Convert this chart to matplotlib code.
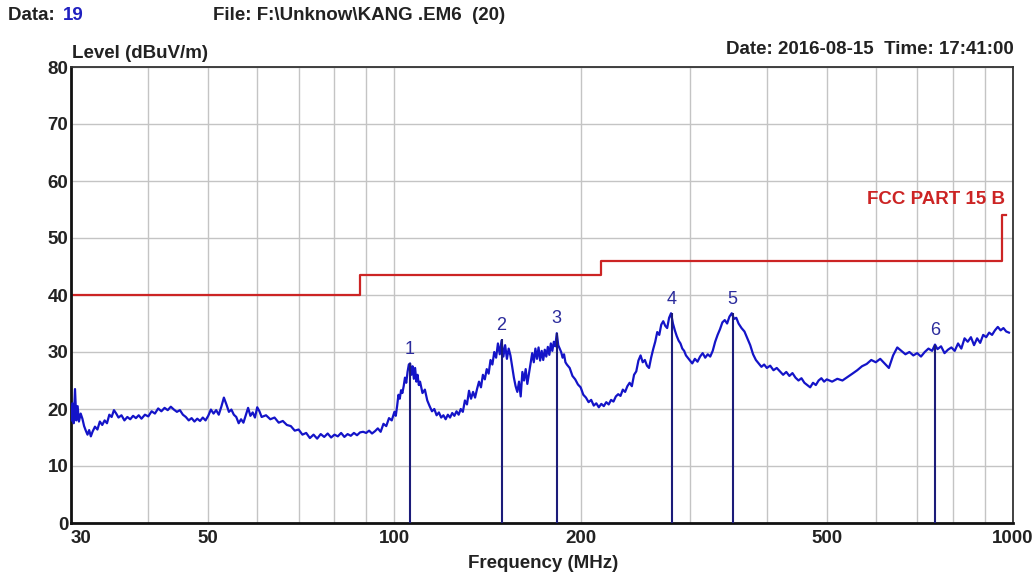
"""
Radiated emission scan 30-1000 MHz vs FCC Part 15 B limit, peak markers 1-6.
"""

import matplotlib
matplotlib.use('Agg')
import matplotlib.pyplot as plt
from matplotlib.ticker import FixedLocator, NullFormatter, NullLocator

plt.rcParams['font.family'] = ['Liberation Sans', 'DejaVu Sans']

# ── Data ───────────────────────────────────────────────────────────────────────
FREQ = [
    30.0, 30.15, 30.3, 30.45, 30.6, 30.75, 30.9, 31.1, 31.3, 31.5, 31.7, 31.9,
    32.1, 32.3, 32.5, 32.8, 33.1, 33.4, 33.7, 34.0, 34.3, 34.6, 34.9, 35.2,
    35.5, 35.8, 36.2, 36.6, 37.0, 37.4, 37.8, 38.2, 38.6, 39.0, 39.5, 40.0,
    40.5, 41.0, 41.5, 42.0, 42.5, 43.0, 43.5, 44.0, 44.5, 45.0, 45.5, 46.0,
    46.5, 47.0, 47.5, 48.0, 48.5, 49.0, 49.5, 50.0, 50.5, 51.0, 51.5, 52.0,
    52.5, 53.0, 53.5, 54.0, 54.5, 55.0, 55.5, 56.0, 56.5, 57.0, 57.5, 58.0,
    58.5, 59.0, 59.5, 60.0, 60.5, 61.0, 62.0, 63.0, 64.0, 65.0, 66.0, 67.0,
    68.0, 69.0, 70.0, 71.0, 72.0, 73.0, 74.0, 75.0, 76.0, 77.0, 78.0, 79.0,
    80.0, 81.0, 82.0, 83.0, 84.0, 85.0, 86.0, 87.0, 88.0, 89.0, 90.0, 91.0,
    92.0, 93.0, 94.0, 95.0, 96.0, 97.0, 98.0, 99.0, 100.0, 100.5, 101.0, 101.5,
    102.0, 102.5, 103.0, 103.5, 104.0, 104.5, 105.0, 105.5, 106.0, 106.5, 107.0, 107.5,
    108.0, 108.5, 109.0, 109.5, 110, 111, 112, 113, 114, 115, 116, 117,
    118, 119, 120, 121, 122, 123, 124, 125, 126, 127, 128, 129,
    130, 131, 132, 133, 134, 135, 136, 137, 138, 139, 140, 141,
    142, 143, 144, 145, 146, 147, 148, 149, 150, 151, 152, 153,
    154, 155, 156, 157, 158, 159, 160, 161, 162, 163, 164, 165,
    166, 167, 168, 169, 170, 171, 172, 173, 174, 175, 176, 177,
    178, 179, 180, 181, 182, 183, 184, 185, 186, 187, 188, 189,
    190, 192, 194, 196, 198, 200, 202, 204, 206, 208, 210, 212,
    214, 216, 218, 220, 222, 224, 226, 228, 230, 232, 234, 236,
    238, 240, 242, 244, 246, 248, 250, 252, 254, 256, 258, 260,
    262, 264, 266, 268, 270, 272, 274, 276, 278, 280, 282, 284,
    286, 288, 290, 292, 294, 296, 298, 300, 303, 306, 309, 312,
    315, 318, 321, 324, 327, 330, 333, 336, 339, 342, 345, 348,
    351, 354, 357, 360, 364, 368, 372, 376, 380, 384, 388, 392,
    396, 400, 405, 410, 415, 420, 425, 430, 435, 440, 445, 450,
    455, 460, 465, 470, 475, 480, 485, 490, 495, 500, 510, 520,
    530, 540, 550, 560, 570, 580, 590, 600, 610, 620, 630, 640,
    650, 660, 670, 680, 690, 700, 710, 720, 730, 740, 748, 755,
    765, 775, 785, 795, 805, 815, 825, 835, 845, 855, 865, 875,
    885, 895, 905, 915, 925, 935, 945, 955, 965, 975, 985,
]
LEVEL = [
    18.0, 21.0, 17.5, 23.5, 18.0, 20.5, 17.8, 19.2, 18.3, 17.0, 16.2, 15.5,
    16.3, 15.2, 16.0, 16.9, 16.4, 17.8, 17.2, 18.0, 17.5, 19.0, 18.6, 19.8,
    19.2, 18.5, 18.9, 18.0, 18.6, 18.2, 18.8, 18.4, 18.9, 18.3, 19.0, 18.7,
    19.6, 19.2, 20.1, 19.6, 20.2, 19.8, 20.4, 19.9, 19.5, 19.8, 19.0, 18.6,
    18.0, 18.4, 17.8, 18.3, 17.9, 18.5, 18.0, 18.8, 19.9, 19.2, 19.8, 19.0,
    20.4, 22.0, 20.8, 19.5, 19.9, 19.0, 18.6, 17.5, 18.2, 17.6, 18.9, 20.2,
    18.8, 19.4, 18.5, 20.3, 19.6, 18.6, 18.9, 18.2, 18.5, 17.6, 17.9, 17.2,
    17.0, 16.2, 16.4, 15.5, 15.8, 14.9, 15.5, 14.8, 15.6, 15.1, 15.7, 15.0,
    15.5, 15.2, 15.8, 15.1, 15.6, 15.3, 15.8, 15.4, 15.9, 16.0, 15.8, 16.2,
    15.7, 16.1, 16.6, 16.0, 17.4, 17.0, 18.4, 18.0, 19.5, 18.8, 20.5, 22.5,
    21.8, 23.3, 22.8, 24.0, 25.5, 24.6, 26.5, 27.8, 28.0, 26.0, 27.5, 25.3,
    27.2, 24.8, 26.0, 24.2, 24.8, 22.8, 23.4, 21.5, 20.5, 19.6, 20.0, 18.9,
    19.4, 18.5, 18.9, 18.2, 19.0, 18.5, 19.3, 18.8, 19.6, 19.0, 20.0, 19.5,
    21.5, 20.8, 23.2, 21.8, 23.0, 22.0, 23.5, 24.8, 23.8, 26.0, 25.2, 27.0,
    26.2, 28.6, 27.8, 30.0, 29.0, 31.5, 29.6, 32.0, 29.2, 31.2, 28.8, 30.6,
    29.4, 27.5, 25.5, 24.0, 23.0, 24.8, 22.2, 26.5, 25.0, 27.0, 24.4, 26.2,
    28.0, 29.8, 28.2, 30.6, 28.8, 30.8, 28.5, 30.2, 28.6, 30.4, 29.2, 30.9,
    29.5, 31.5, 30.2, 31.8, 31.0, 33.3, 31.2, 30.6, 30.0, 29.0, 29.6, 28.2,
    27.8, 27.2, 25.8, 25.2, 24.3, 23.8, 22.5, 22.0, 21.2, 21.6, 20.6, 21.0,
    20.3, 20.9, 20.5, 21.2, 20.8, 21.6, 21.3, 22.2, 22.6, 22.3, 23.4, 23.0,
    24.0, 24.6, 24.0, 26.0, 26.6, 28.5, 29.4, 28.2, 28.6, 27.6, 27.2, 29.0,
    30.5, 31.8, 33.5, 33.0, 34.8, 35.4, 34.6, 34.2, 36.0, 36.8, 35.0, 33.8,
    32.8, 32.0, 31.5, 30.6, 30.2, 29.4, 29.0, 28.6, 28.0, 28.8, 28.3, 29.2,
    29.8, 29.0, 29.6, 29.2, 30.2, 31.8, 33.0, 34.0, 35.2, 35.6, 35.0, 36.2,
    36.8, 35.8, 36.0, 35.0, 34.2, 33.6, 32.4, 31.2, 29.6, 28.6, 28.0, 27.4,
    27.8, 27.2, 27.6, 26.8, 27.2, 26.6, 26.0, 26.5, 25.8, 26.3, 25.5, 25.0,
    25.4, 24.6, 24.2, 23.8, 24.6, 24.2, 25.0, 25.4, 24.8, 25.2, 24.8, 25.3,
    25.0, 25.6, 26.2, 26.8, 27.5, 27.9, 28.6, 28.2, 28.8, 28.0, 27.2, 29.4,
    30.8, 30.2, 29.6, 30.0, 29.4, 29.8, 29.2, 30.0, 30.6, 30.2, 31.3, 30.5,
    31.0, 29.8, 30.4, 30.8, 30.2, 31.5, 30.6, 32.4, 31.8, 32.6, 31.2, 32.4,
    31.6, 33.0, 32.6, 33.4, 33.0, 33.8, 34.4, 33.8, 34.2, 33.6, 33.4,
]

# FCC Part 15 B class B limit (stepped)
LIMIT_FREQ  = [30, 88, 88, 216, 216, 960, 960, 975]
LIMIT_LEVEL = [40, 40, 43.5, 43.5, 46, 46, 54, 54]

# Peak markers
MARK_ID    = ['1', '2', '3', '4', '5', '6']
MARK_FREQ  = [106, 149, 183, 281, 352, 748]
MARK_LEVEL = [28.0, 32.3, 33.4, 36.8, 36.8, 31.3]

X_TICKS  = [30, 50, 100, 200, 500, 1000]
X_GRID   = [30, 40, 50, 60, 70, 80, 90, 100, 200, 300, 400, 500, 600, 700, 800, 900, 1000]
Y_TICKS  = [0, 10, 20, 30, 40, 50, 60, 70, 80]

# ── Colours ────────────────────────────────────────────────────────────────────
C_TRACE = '#1414c8'
C_MARK  = '#1c1c7a'
C_LABEL = '#2b2b9c'
C_LIMIT = '#cc2424'
C_GRID  = '#c4c4c4'
C_TEXT  = '#222222'
FS      = 13.5

fig = plt.figure(figsize=(10.34, 5.77), dpi=100)
fig.patch.set_facecolor('white')
ax = fig.add_axes([71 / 1034, 1 - 523 / 577, (1013 - 71) / 1034, (523 - 67) / 577])

ax.set_xscale('log')
ax.set_xlim(30, 1000)
ax.set_ylim(0, 80)

# grid
for f in X_GRID:
    ax.axvline(f, color=C_GRID, lw=1.0, zorder=0)
for v in Y_TICKS:
    ax.axhline(v, color=C_GRID, lw=1.0, zorder=0)

# limit line
ax.plot(LIMIT_FREQ, LIMIT_LEVEL, color=C_LIMIT, lw=1.6, zorder=2)
ax.text(970, 56.7, 'FCC PART 15 B', color=C_LIMIT, fontsize=FS,
        fontweight='bold', ha='right', va='center')

# trace
ax.plot(FREQ, LEVEL, color=C_TRACE, lw=1.6, zorder=3)

# markers
for mid, mf, ml in zip(MARK_ID, MARK_FREQ, MARK_LEVEL):
    ax.vlines(mf, 0, ml, color=C_MARK, lw=1.5, zorder=4)
    ax.text(mf, ml + 0.9, mid, color=C_LABEL, fontsize=13,
            ha='center', va='bottom', zorder=5)

# ── Axes styling ───────────────────────────────────────────────────────────────
ax.xaxis.set_major_locator(FixedLocator(X_TICKS))
ax.xaxis.set_minor_locator(NullLocator())
ax.xaxis.set_minor_formatter(NullFormatter())
ax.set_xticklabels([str(t) for t in X_TICKS])
ax.set_yticks(Y_TICKS)
ax.tick_params(axis='both', length=0, labelsize=FS, colors=C_TEXT)
ax.tick_params(axis='x', pad=5)
ax.tick_params(axis='y', pad=2)
for lbl in ax.get_xticklabels() + ax.get_yticklabels():
    lbl.set_fontweight('bold')
ax.get_xticklabels()[0].set_horizontalalignment('left')

for side in ['left', 'bottom']:
    ax.spines[side].set_linewidth(2.0)
    ax.spines[side].set_color('#111111')
for side in ['top', 'right']:
    ax.spines[side].set_linewidth(1.3)
    ax.spines[side].set_color('#333333')

# ── Header / labels ────────────────────────────────────────────────────────────
fig.text(8 / 1034, 1 - 16 / 577, 'Data: ', fontsize=FS, fontweight='bold',
         color=C_TEXT, ha='left', va='center')
fig.text(63 / 1034, 1 - 16 / 577, '19', fontsize=FS, fontweight='bold',
         color='#2020c0', ha='left', va='center')
fig.text(213 / 1034, 1 - 16 / 577, r'File: F:\Unknow\KANG .EM6  (20)', fontsize=FS,
         fontweight='bold', color=C_TEXT, ha='left', va='center')
fig.text(1014 / 1034, 1 - 50 / 577, 'Date: 2016-08-15  Time: 17:41:00', fontsize=FS,
         fontweight='bold', color=C_TEXT, ha='right', va='center')
fig.text(72 / 1034, 1 - 53 / 577, 'Level (dBuV/m)', fontsize=FS,
         fontweight='bold', color=C_TEXT, ha='left', va='center')
fig.text(543 / 1034, 1 - 564 / 577, 'Frequency (MHz)', fontsize=FS,
         fontweight='bold', color=C_TEXT, ha='center', va='center')

fig.savefig('out.png', dpi=100, facecolor='white')
plt.close(fig)
